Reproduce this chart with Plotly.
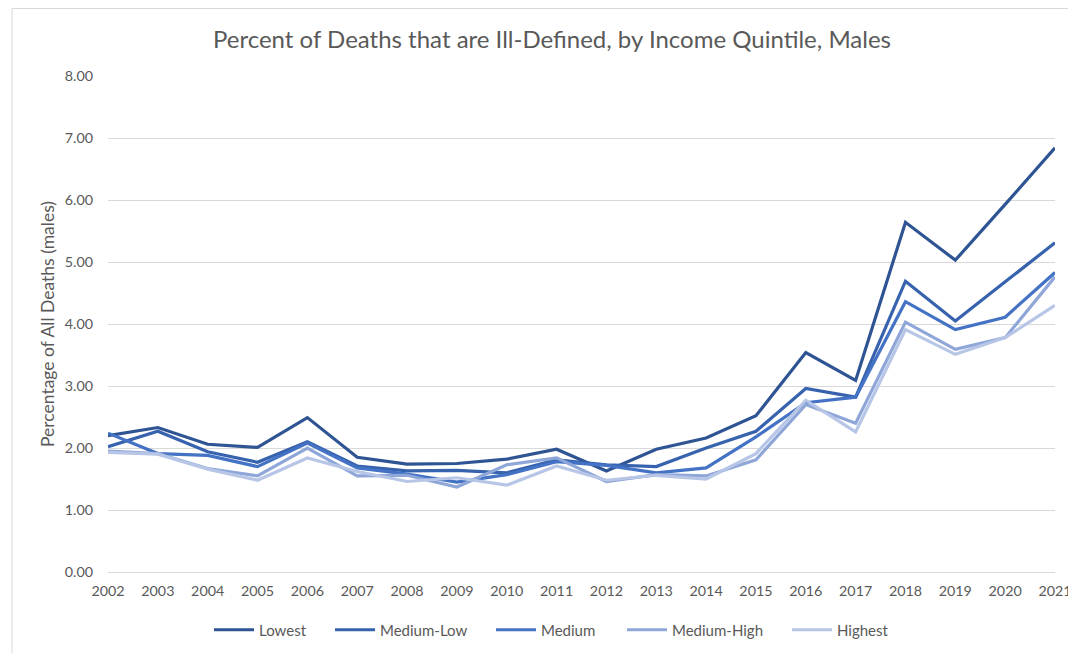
import plotly.graph_objects as go

years = [str(y) for y in range(2002, 2022)]

lowest      = [2.20, 2.33, 2.06, 2.01, 2.49, 1.85, 1.74, 1.75, 1.82, 1.98, 1.63, 1.98, 2.16, 2.52, 3.54, 3.09, 5.64, 5.03, 5.93, 6.84]
medium_low  = [2.02, 2.27, 1.94, 1.77, 2.10, 1.71, 1.63, 1.64, 1.60, 1.81, 1.73, 1.70, 2.00, 2.27, 2.96, 2.82, 4.69, 4.05, 4.68, 5.31]
medium      = [2.24, 1.91, 1.88, 1.70, 2.08, 1.68, 1.58, 1.45, 1.57, 1.78, 1.72, 1.60, 1.68, 2.18, 2.73, 2.82, 4.36, 3.91, 4.11, 4.83]
medium_high = [1.95, 1.91, 1.67, 1.55, 2.00, 1.55, 1.56, 1.37, 1.73, 1.84, 1.46, 1.57, 1.55, 1.81, 2.70, 2.40, 4.03, 3.59, 3.78, 4.76]
highest     = [1.93, 1.90, 1.66, 1.48, 1.84, 1.62, 1.46, 1.52, 1.40, 1.71, 1.48, 1.56, 1.50, 1.91, 2.77, 2.26, 3.91, 3.51, 3.78, 4.30]

series_names = ["Lowest", "Medium-Low", "Medium", "Medium-High", "Highest"]
series_values = [lowest, medium_low, medium, medium_high, highest]
series_colors = ["#2E5493", "#3662AE", "#4472C4", "#8EA6D8", "#B7C6E6"]

y_ticks = [0, 1, 2, 3, 4, 5, 6, 7, 8]
y_tick_labels = [f"{v:.2f}" for v in y_ticks]

FONT = "Lato, 'Open Sans', sans-serif"
GREY = "#595959"

# layout geometry (figure pixels; page adds an 8px body margin)
W, H = 1068, 645
ML, MR, MT, MB = 100, 21, 68, 81
PW = W - ML - MR
PH = H - MT - MB

def px_to_paper_x(px):
    return (px - ML) / PW

def px_to_paper_y(py):
    return (H - MB - py) / PH

legend_starts_px = [201, 322, 483, 614, 779]
legend_keys = ["legend", "legend2", "legend3", "legend4", "legend5"]

fig = go.Figure()
for name, vals, col, lk in zip(series_names, series_values, series_colors, legend_keys):
    fig.add_trace(go.Scatter(
        x=years, y=vals, name=name, mode="lines",
        line=dict(color=col, width=3.2), legend=lk,
    ))

legend_layouts = {}
for lk, sx in zip(legend_keys, legend_starts_px):
    legend_layouts[lk] = dict(
        orientation="h", x=px_to_paper_x(sx), xanchor="left",
        y=px_to_paper_y(622), yanchor="middle",
        font=dict(size=15, color=GREY, family=FONT),
        itemwidth=40, bgcolor="rgba(0,0,0,0)",
    )

fig.update_layout(
    width=W, height=H,
    margin=dict(l=ML, r=MR, t=MT, b=MB, autoexpand=False),
    paper_bgcolor="white", plot_bgcolor="white",
    font=dict(family=FONT, color=GREY, size=14),
    title=dict(
        text="Percent of Deaths that are Ill-Defined, by Income Quintile, Males",
        x=px_to_paper_x(544), xanchor="center", xref="paper",
        y=1 - 32 / H, yanchor="middle",
        font=dict(size=24, color=GREY, family=FONT),
    ),
    showlegend=True,
    shapes=[dict(
        type="rect", xref="paper", yref="paper",
        x0=px_to_paper_x(4), x1=1.3, y0=-0.4, y1=px_to_paper_y(0.5),
        line=dict(color="#D9D9D9", width=1), fillcolor="rgba(0,0,0,0)", layer="below",
    )],
    **legend_layouts,
)

fig.update_xaxes(
    type="category", showgrid=False, showline=True, linecolor="#D9D9D9", linewidth=1,
    ticks="", tickfont=dict(size=14.3, color=GREY), range=[0, len(years) - 1],
    zeroline=False, automargin=False, ticklabelstandoff=6,
)
fig.update_yaxes(
    range=[0, 8], tickvals=y_ticks, ticktext=y_tick_labels,
    showgrid=True, gridcolor="#D9D9D9", gridwidth=1, zeroline=False, showline=False,
    ticks="", ticklabelstandoff=14, automargin=False,
    tickfont=dict(size=14.3, color=GREY),
    title=dict(text="Percentage of All Deaths (males)", font=dict(size=17.5, color=GREY), standoff=5),
)

fig.write_html("out.html")
